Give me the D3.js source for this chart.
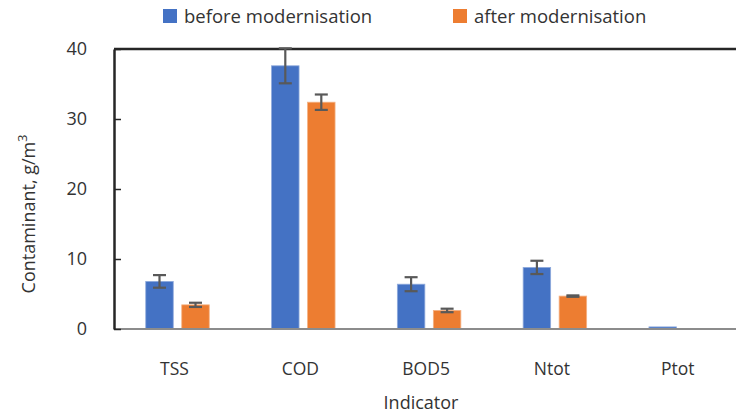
<!DOCTYPE html>
<html><head><meta charset="utf-8">
<script src="https://cdn.jsdelivr.net/npm/d3@7"></script>
<style>
html,body{margin:0;padding:0;background:#fff;}
svg{display:block;font-family:"Open Sans",sans-serif;}
</style></head>
<body>
<svg id="chart" width="736" height="415"></svg>
<script>
const categories = ["TSS", "COD", "BOD5", "Ntot", "Ptot"];
const seriesNames = ["before modernisation", "after modernisation"];
const beforeValues = [6.8, 37.6, 6.4, 8.8, 0.3];
const beforeErrors = [0.9, 2.5, 1.0, 0.95, 0.0];
const afterValues = [3.45, 32.4, 2.65, 4.7, 0.05];
const afterErrors = [0.3, 1.1, 0.25, 0.1, 0.0];
const yTicks = [0, 10, 20, 30, 40];
const colors = ["#4472C4", "#ED7D31"];
const strokeColors = ["#8FAADC", "#F4B183"];

(function () {
const svg = d3.select("#chart");
const plotLeft = 114, plotTop = 49, plotBottom = 329;
const x = d3.scaleBand().domain(categories).range([114.6, 743.6]).paddingInner(0).paddingOuter(0);
const y = d3.scaleLinear().domain([0, 40]).range([plotBottom, plotTop]);

const data = categories.map((c, i) => ({
  cat: c,
  vals: [
    {s: 0, v: beforeValues[i], e: beforeErrors[i]},
    {s: 1, v: afterValues[i], e: afterErrors[i]}
  ]
}));

const barW = 27.5, gap = 8.5;
function barX(cat, s) {
  const c = x(cat) + x.bandwidth() / 2;
  return s === 0 ? c - gap / 2 - barW : c + gap / 2;
}

const g = svg.append("g");
data.forEach(d => {
  d.vals.forEach(b => {
    g.append("rect")
      .attr("x", barX(d.cat, b.s))
      .attr("y", y(b.v))
      .attr("width", barW)
      .attr("height", y(0) - y(b.v))
      .attr("fill", colors[b.s])
      .attr("stroke", strokeColors[b.s])
      .attr("stroke-width", 0.8);
  });
});

svg.append("line").attr("x1", plotLeft).attr("x2", 736).attr("y1", y(0)).attr("y2", y(0))
  .attr("stroke", "#8c8c8c").attr("stroke-width", 2);
svg.append("line").attr("x1", plotLeft).attr("x2", 736).attr("y1", y(40)).attr("y2", y(40))
  .attr("stroke", "#262626").attr("stroke-width", 2.5);

data.forEach(d => {
  d.vals.forEach(b => {
    if (b.e <= 0) return;
    const cx = barX(d.cat, b.s) + barW / 2;
    const eg = svg.append("g").attr("stroke", "#595959").attr("stroke-width", 2.2);
    eg.append("line").attr("x1", cx).attr("x2", cx).attr("y1", y(b.v + b.e)).attr("y2", y(b.v - b.e));
    eg.append("line").attr("x1", cx - 6.5).attr("x2", cx + 6.5).attr("y1", y(b.v + b.e)).attr("y2", y(b.v + b.e));
    eg.append("line").attr("x1", cx - 6.5).attr("x2", cx + 6.5).attr("y1", y(b.v - b.e)).attr("y2", y(b.v - b.e));
  });
});

const yAxis = d3.axisLeft(y).tickValues(yTicks).tickSizeInner(-7).tickSizeOuter(0).tickPadding(27);
const ya = svg.append("g").attr("transform", `translate(${plotLeft},0)`).call(yAxis);
ya.select(".domain").attr("stroke", "#262626").attr("stroke-width", 2.5);
ya.selectAll(".tick line").attr("stroke", "#262626").attr("stroke-width", 1.5);
ya.selectAll(".tick text").attr("font-size", 18).attr("fill", "#333").attr("font-family", "Open Sans, sans-serif");

const xAxis = d3.axisBottom(x).tickSize(0).tickPadding(0);
const xa = svg.append("g").attr("transform", `translate(-3,${y(0)})`).call(xAxis);
xa.select(".domain").remove();
xa.selectAll(".tick text").attr("font-size", 17.5).attr("fill", "#333").attr("dy", 0).attr("y", 46)
  .attr("font-family", "Open Sans, sans-serif");

svg.append("text").attr("x", 421).attr("y", 409).attr("text-anchor", "middle")
  .attr("font-size", 18).attr("fill", "#333").text("Indicator");
const yt = svg.append("text").attr("transform", "translate(35,214) rotate(-90)")
  .attr("text-anchor", "middle").attr("font-size", 18).attr("fill", "#333");
yt.append("tspan").text("Contaminant, g/m");
yt.append("tspan").attr("font-size", 12.5).attr("dy", -8).text("3");

const legX = [163, 453];
seriesNames.forEach((n, i) => {
  svg.append("rect").attr("x", legX[i]).attr("y", 9).attr("width", 14).attr("height", 14).attr("fill", colors[i]);
  svg.append("text").attr("x", legX[i] + 21).attr("y", 23).attr("font-size", 18.5).attr("fill", "#333").text(n);
});
})();
</script>
</body></html>
